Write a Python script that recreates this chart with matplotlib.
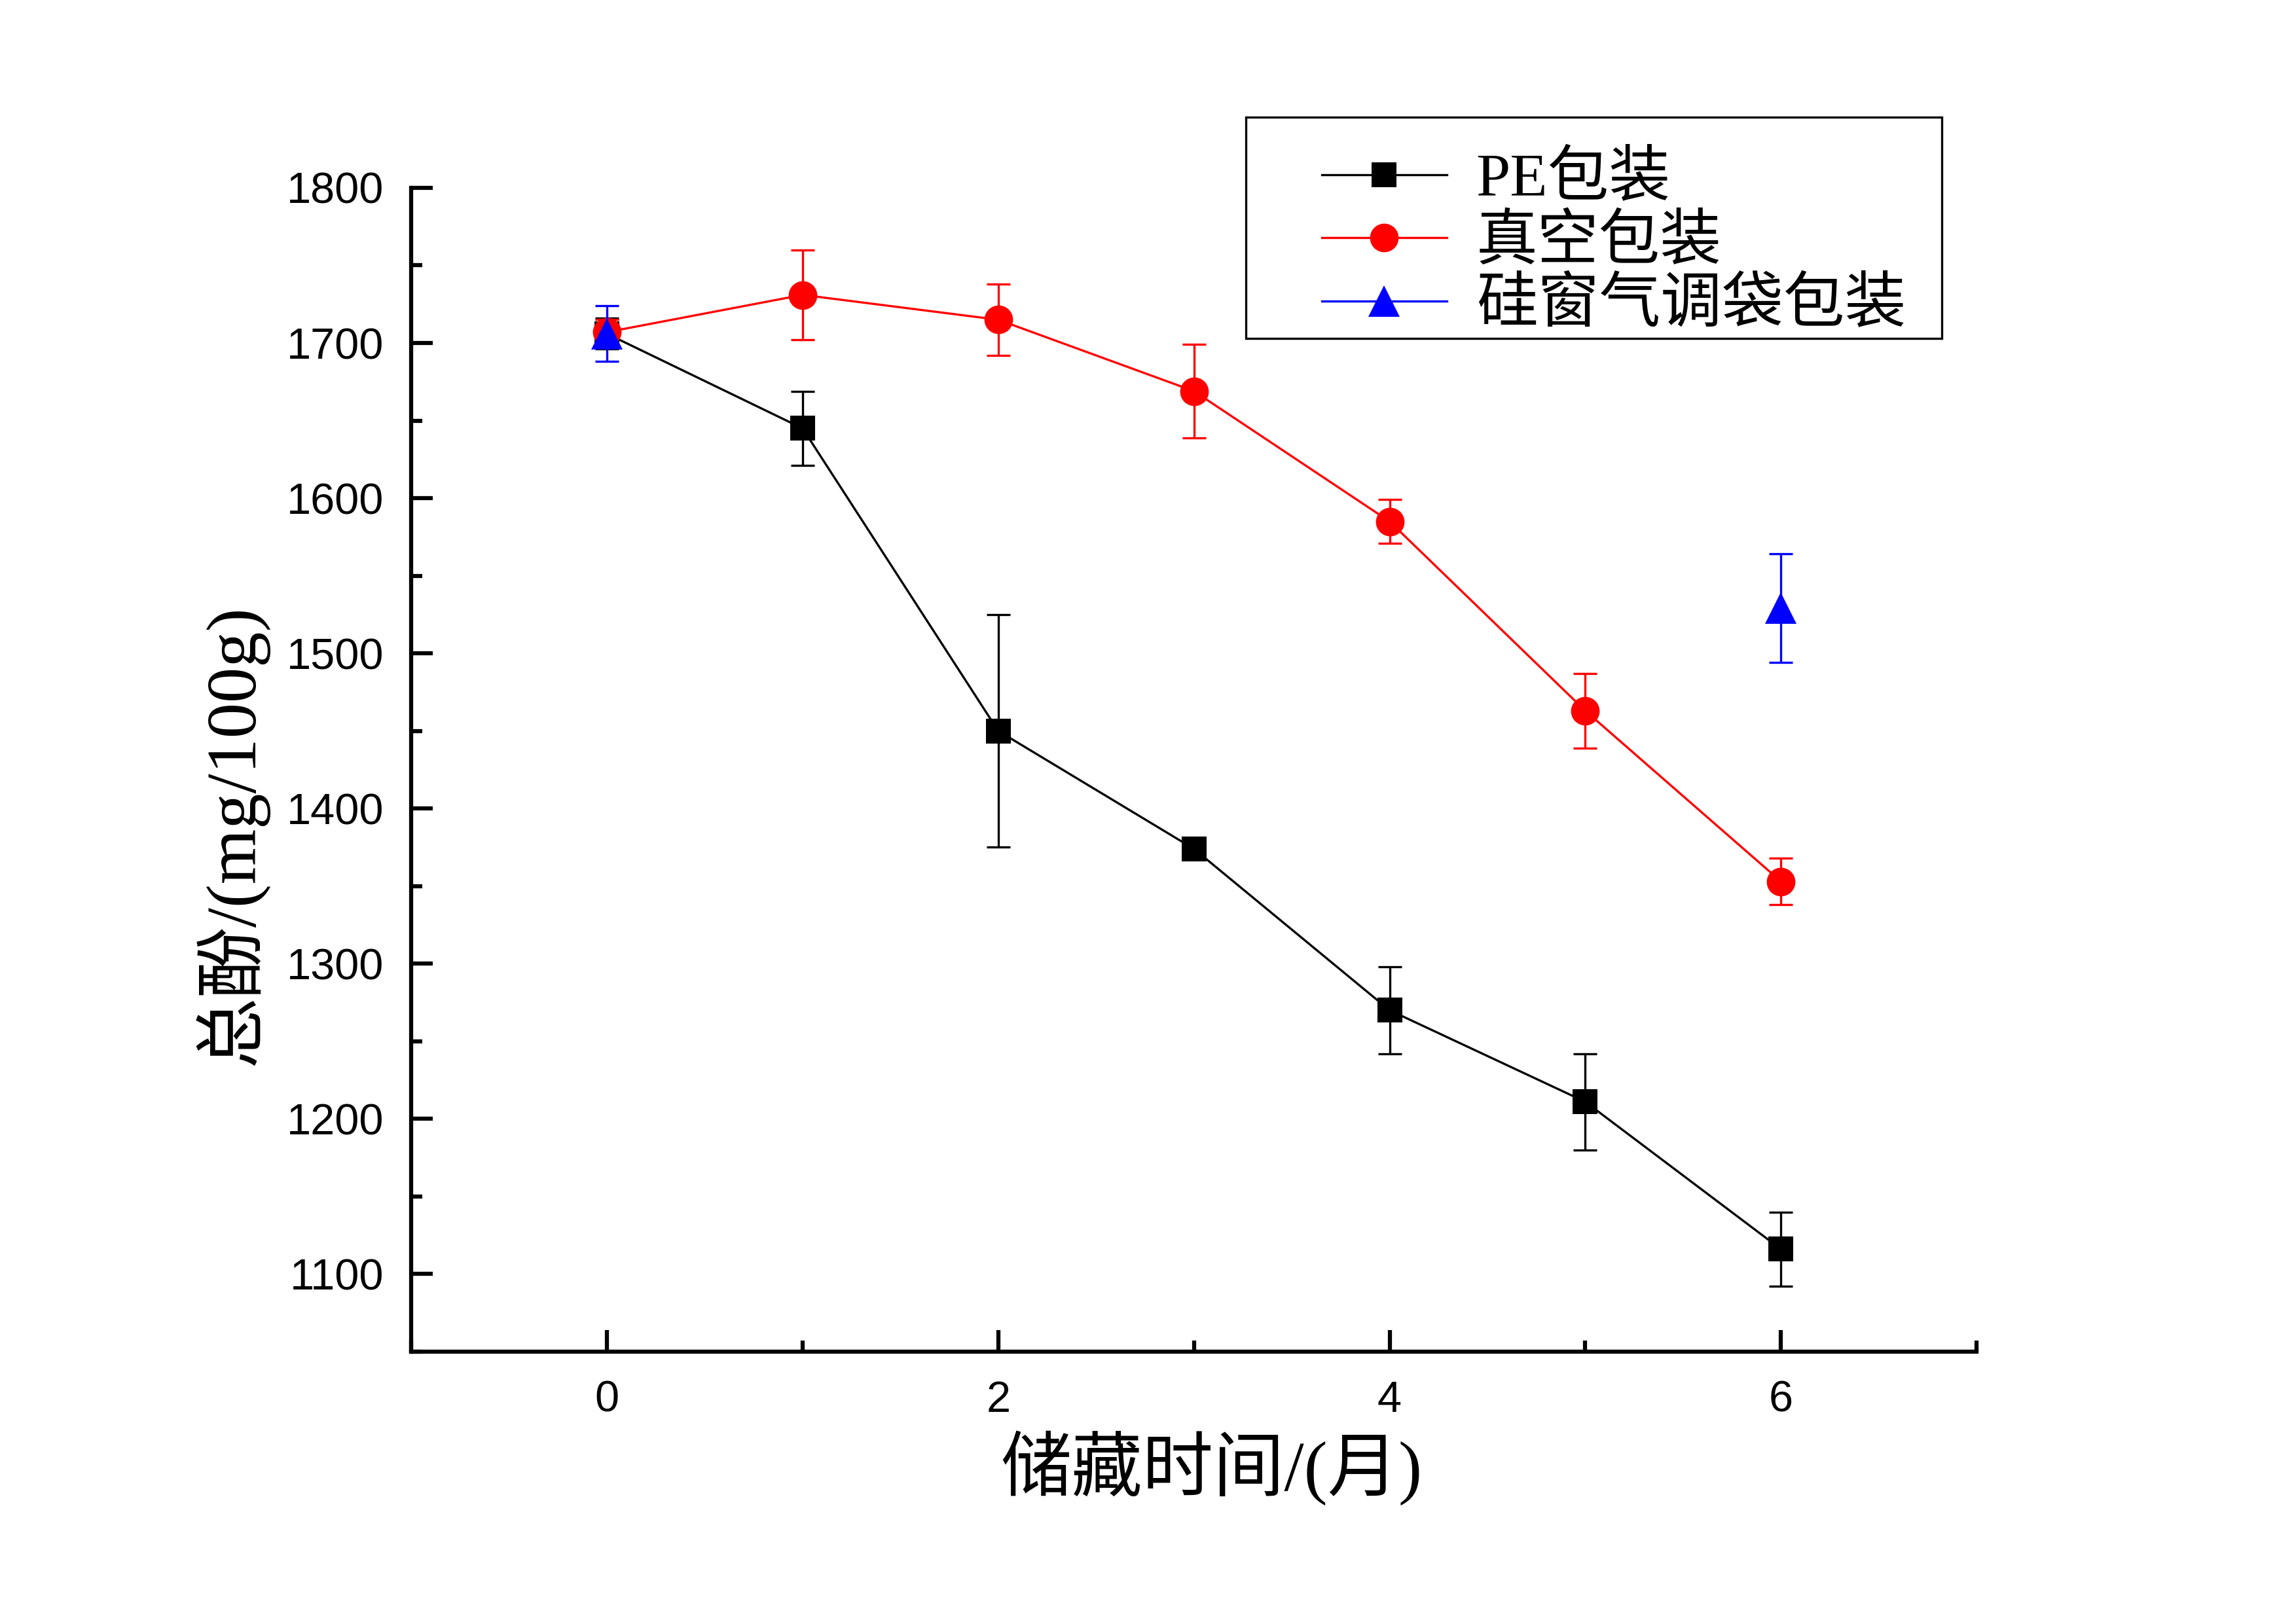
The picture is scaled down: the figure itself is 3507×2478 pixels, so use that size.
import numpy as np
from matplotlib import pyplot as plt
from matplotlib.lines import Line2D
from matplotlib.legend_handler import HandlerLine2D
from matplotlib.patches import Rectangle
from matplotlib.ticker import MultipleLocator

# storage time (months)
months = np.array([0, 1, 2, 3, 4, 5, 6])

# total phenol (mg/100g) and standard deviations
pe_values = np.array([1706, 1645, 1450, 1374, 1270, 1211, 1116])
pe_errors = np.array([10, 24, 75, 6, 28, 31, 24])
vacuum_values = np.array([1707, 1731, 1715, 1669, 1585, 1463, 1353])
vacuum_errors = np.array([8, 29, 23, 30, 14, 24, 15])
# silicon window bag only measured at the start and the end
silicon_values = np.array([1706, np.nan, np.nan, np.nan, np.nan, np.nan, 1529])
silicon_errors = np.array([18, np.nan, np.nan, np.nan, np.nan, np.nan, 35])

series_labels = ['PE包装', '真空包装', '硅窗气调袋包装']
x_label = '储藏时间/(月)'
y_label = '总酚/(mg/100g)'

cjk_family = ['Liberation Serif', 'Noto Sans CJK SC', 'DejaVu Sans']

fig = plt.figure(figsize=(3507 / 300, 2478 / 300), dpi=300)
ax = fig.add_axes([0.1791, 0.1667, 0.8609 - 0.1791, 0.8842 - 0.1667])

styles = [
    (pe_values, pe_errors, 'black', 's', 9.0),
    (vacuum_values, vacuum_errors, 'red', 'o', 10.5),
    (silicon_values, silicon_errors, 'blue', '^', 11.5),
]

handles = []
for (values, errors, colour, marker, size), label in zip(styles,
                                                         series_labels):
    ax.errorbar(months, values, yerr=errors, fmt='none', ecolor=colour,
                elinewidth=0.8, capsize=4.4, capthick=0.8)
    line, = ax.plot(months, values, color=colour, linewidth=0.8,
                    marker=marker, markersize=size, markeredgewidth=0,
                    label=label)
    handles.append(line)

# axes limits and ticks
ax.set_xlim(-1, 7)
ax.set_ylim(1050, 1800)
ax.xaxis.set_major_locator(MultipleLocator(2))
ax.xaxis.set_minor_locator(MultipleLocator(1))
ax.yaxis.set_major_locator(MultipleLocator(100))
ax.yaxis.set_minor_locator(MultipleLocator(50))
ax.set_yticks(np.arange(1100, 1801, 100))

for side in ['top', 'right']:
    ax.spines[side].set_visible(False)
for side in ['left', 'bottom']:
    ax.spines[side].set_linewidth(1.5)

ax.tick_params(which='both', direction='in', width=1.5)
ax.tick_params(which='major', length=8)
ax.tick_params(which='minor', length=4)
ax.tick_params(axis='y', which='major', pad=10)
ax.tick_params(axis='x', which='major', pad=10.5)
for tick_label in ax.get_xticklabels() + ax.get_yticklabels():
    tick_label.set_fontfamily('Liberation Sans')
    tick_label.set_fontsize(16)

# axis titles
ax.set_xlabel(x_label, fontsize=26, family=cjk_family)
ax.xaxis.set_label_coords(0.511, -0.068)
ax.set_ylabel(y_label, fontsize=26, family=cjk_family)
ax.yaxis.set_label_coords(-0.0916, 0.444)

# legend without error bars; the frame is drawn separately so that it
# hugs the text like the original
ax.legend(handles=handles, loc='upper left',
          bbox_to_anchor=(1903 / 3507, 1 - 179 / 2478),
          bbox_transform=fig.transFigure, borderaxespad=0,
          prop={'family': cjk_family, 'size': 22.5},
          handlelength=2.7, handletextpad=0.48, borderpad=0.57,
          labelspacing=0.1, frameon=False,
          handler_map={Line2D: HandlerLine2D(numpoints=1, xpad=0.67)})
fig.add_artist(Rectangle((1903 / 3507, 1 - 517 / 2478),
                         (2966 - 1903) / 3507, (517 - 179) / 2478,
                         transform=fig.transFigure, fill=False,
                         edgecolor='black', linewidth=0.8))

fig.savefig('out.png', dpi=300)
